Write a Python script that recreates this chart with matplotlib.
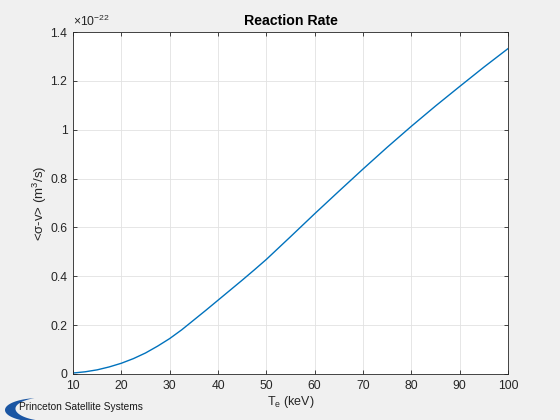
import numpy as np
import matplotlib
matplotlib.use("Agg")
import matplotlib.pyplot as plt

# ---- data ----
te_kev = [10, 12.5, 15, 17.5, 20, 22.5, 25, 27.5, 30, 32.5, 35, 37.5, 40,
          42.5, 45, 47.5, 50, 55, 60, 65, 70, 75, 80, 85, 90, 95, 100]
sigma_v = [0.004, 0.009, 0.017, 0.029, 0.044, 0.063, 0.086, 0.114, 0.145,
           0.181, 0.221, 0.261, 0.302, 0.343, 0.384, 0.426, 0.469, 0.562,
           0.656, 0.748, 0.839, 0.928, 1.014, 1.097, 1.177, 1.256, 1.332]  # x 1e-22
x_ticks = [10, 20, 30, 40, 50, 60, 70, 80, 90, 100]
y_ticks = [0, 0.2, 0.4, 0.6, 0.8, 1.0, 1.2, 1.4]
y_tick_labels = ["0", "0.2", "0.4", "0.6", "0.8", "1", "1.2", "1.4"]

plt.rcParams['font.family'] = ['Liberation Sans', 'DejaVu Sans']

bg = "#f0f0f0"
ink = "#262626"
fig = plt.figure(figsize=(5.6, 4.2), dpi=100, facecolor=bg)
ax = fig.add_axes([73/560, 46/420, 435/560, 342/420])

ax.plot(te_kev, sigma_v, color=(0, 0.447, 0.741), lw=1.0)
ax.set_xlim(10, 100)
ax.set_ylim(0, 1.4)
ax.set_xticks(x_ticks)
ax.set_yticks(y_ticks)
ax.set_yticklabels(y_tick_labels)
ax.grid(True, color="#e2e2e2", lw=0.6)
ax.set_axisbelow(True)
ax.tick_params(direction="in", length=3, width=0.6, top=True, right=True,
               labelsize=8.7, colors=ink, pad=4)
for sp in ax.spines.values():
    sp.set_color(ink)
    sp.set_linewidth(0.6)

ax.set_title("Reaction Rate", fontsize=10.2, fontweight="bold", pad=5)
ax.set_xlabel("T$_\\mathregular{e}$ (keV)", fontsize=9, labelpad=2, color=ink)
ax.set_ylabel("<σ-v> (m$^\\mathregular{3}$/s)", fontsize=9.5, labelpad=1, color=ink)
ax.text(0.0, 1.01, "×10$^\\mathregular{-22}$", transform=ax.transAxes,
        fontsize=8.7, color=ink, ha="left", va="bottom")

# ---- logo overlay in pixel coordinates ----
ov = fig.add_axes([0, 0, 1, 1])
ov.set_xlim(0, 560)
ov.set_ylim(420, 0)
ov.axis("off")
t0, t1 = 0.55 * np.pi, 1.62 * np.pi
t = np.linspace(t0, t1, 100)
s = np.sin(np.pi * (t - t0) / (t1 - t0))
cx, cy, rx, ry = 40, 410, 35, 12
outer_x = cx + rx * np.cos(t)
outer_y = cy - ry * np.sin(t)
inner_x = cx + (rx - 11 * s) * np.cos(t)
inner_y = cy - (ry - 4 * s) * np.sin(t)
ov.fill(np.r_[outer_x, inner_x[::-1]], np.r_[outer_y, inner_y[::-1]],
        color="#1b56a3", lw=0)
ov.text(19, 407.5, "Princeton Satellite Systems", fontsize=7.3, color="#1a1a1a",
        ha="left", va="center")

fig.savefig("out.png", dpi=100, facecolor=bg)
